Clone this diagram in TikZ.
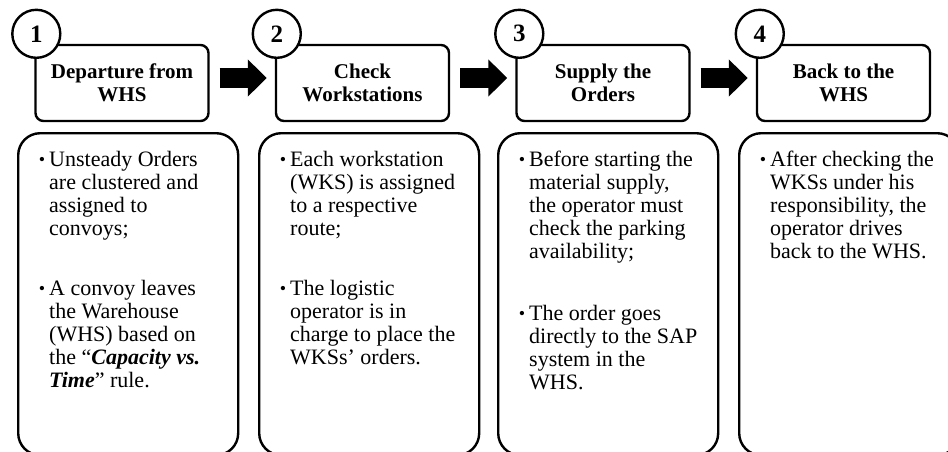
\documentclass[tikz,border=0pt]{standalone}
\usepackage{fontspec}
\setmainfont{Liberation Serif}
\usetikzlibrary{positioning}
\usetikzlibrary{arrows.meta}

% bullet hanging left of the first line
\newcommand{\bul}{\llap{\raisebox{0.5pt}{\fontsize{18}{18}\selectfont\textbullet}\hspace{4pt}}}

\tikzset{
	title_box/.style = {
		rectangle,
		rounded corners=8pt,
		draw=black,
		line width=2.4pt,
		fill=white,
		minimum width=173pt,
		minimum height=76pt,
		inner sep=0pt,
		align=center,
		font=\fontsize{21}{23}\selectfont\bfseries
	},
	body_box/.style = {
		rectangle,
		rounded corners=22pt,
		draw=black,
		line width=2.4pt,
		minimum width=220pt,
		minimum height=322pt,
		anchor=north west
	},
	step_num/.style = {
		circle,
		draw=black,
		fill=white,
		line width=2.4pt,
		minimum size=48pt,
		inner sep=0pt,
		font=\fontsize{25}{25}\selectfont\bfseries
	},
	body_text/.style = {
		anchor=north west,
		inner sep=0pt,
		align=left,
		font=\fontsize{22}{23}\selectfont
	},
	step_arrow/.style = {
		line width=20pt,
		-{Triangle[length=19pt, width=36pt]}
	},
}

\begin{document}
\begin{tikzpicture}[x=1pt, y=-1pt]
\useasboundingbox (0,0) rectangle (948,451);

% step headers
\node [title_box] (t1) at (122,83) {Departure from\\WHS};
\node [title_box] (t2) at (362.5,83) {Check\\Workstations};
\node [title_box] (t3) at (603,83) {Supply the\\Orders};
\node [title_box] (t4) at (843.5,83) {Back to the\\WHS};

\node [step_num] (n1) at ([shift={(2,-10)}]t1.north west) {1};
\node [step_num] (n2) at ([shift={(2,-10)}]t2.north west) {2};
\node [step_num] (n3) at ([shift={(4,-10)}]t3.north west) {3};
\node [step_num] (n4) at ([shift={(4,-10)}]t4.north west) {4};

\draw [step_arrow] ([shift={(10,-5)}]t1.east) -- ([shift={(-8,-5)}]t2.west);
\draw [step_arrow] ([shift={(10,-5)}]t2.east) -- ([shift={(-8,-5)}]t3.west);
\draw [step_arrow] ([shift={(10,-5)}]t3.east) -- ([shift={(-8,-5)}]t4.west);

% descriptions
\node [body_box] (b1) at (17,132) {};
\node [body_box] (b2) at (258,132) {};
\node [body_box] (b3) at (497,132) {};
\node [body_box] (b4) at (738,132) {};

\node [body_text] (b1a) at ([shift={(32,18)}]b1.north west)
	{\strut\bul Unsteady Orders\\are clustered and\\assigned to\\convoys;};
\node [body_text] (b1b) at ([shift={(32,147)}]b1.north west)
	{\strut\bul A convoy leaves\\the Warehouse\\(WHS) based on\\the “\textbf{\textit{Capacity vs.}}\\\textbf{\textit{Time}}” rule.};

\node [body_text] (b2a) at ([shift={(32,18)}]b2.north west)
	{\strut\bul Each workstation\\(WKS) is assigned\\to a respective\\route;};
\node [body_text] (b2b) at ([shift={(32,147)}]b2.north west)
	{\strut\bul The logistic\\operator is in\\charge to place the\\WKSs’ orders.};

\node [body_text] (b3a) at ([shift={(32,18)}]b3.north west)
	{\strut\bul Before starting the\\material supply,\\the operator must\\check the parking\\availability;};
\node [body_text] (b3b) at ([shift={(32,172)}]b3.north west)
	{\strut\bul The order goes\\directly to the SAP\\system in the\\WHS.};

\node [body_text] (b4a) at ([shift={(32,18)}]b4.north west)
	{\strut\bul After checking the\\WKSs under his\\responsibility, the\\operator drives\\back to the WHS.};
\end{tikzpicture}
\end{document}
